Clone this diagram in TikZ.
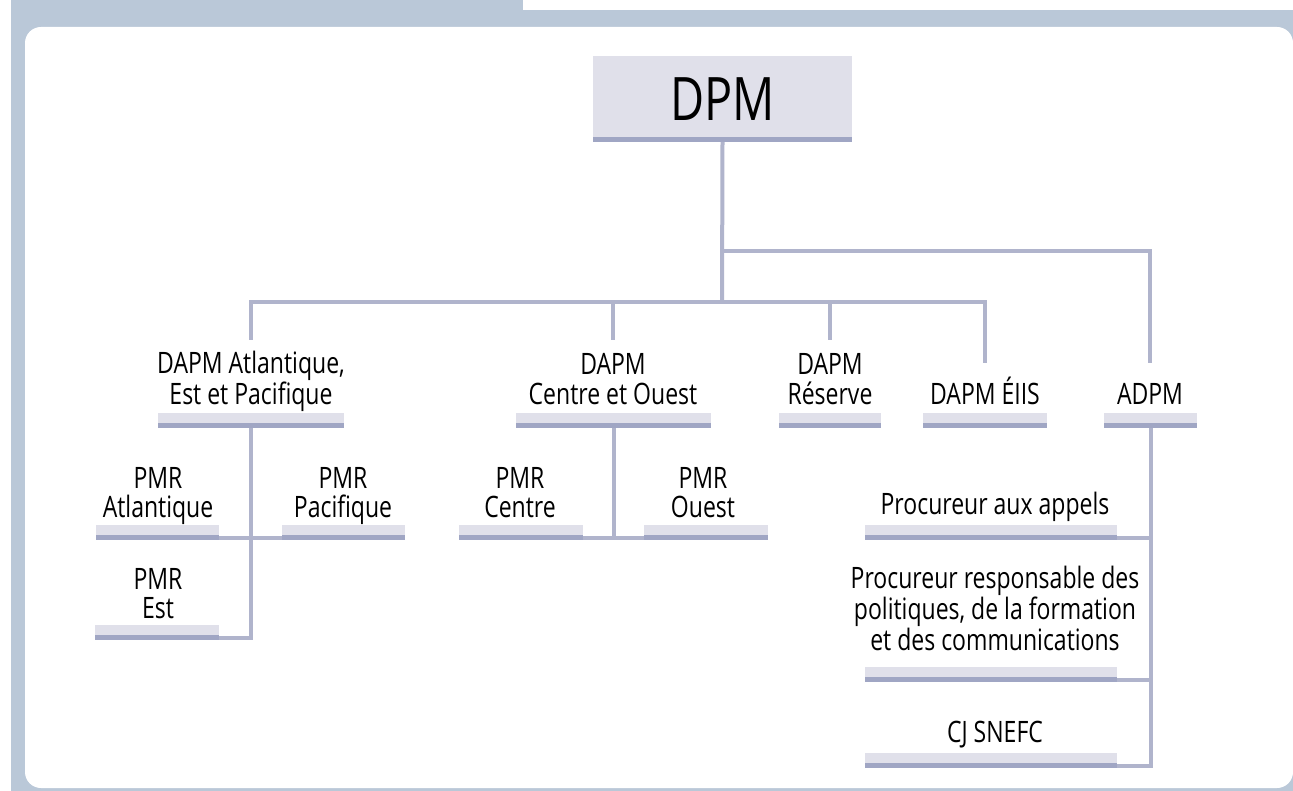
\documentclass[tikz,border=0pt]{standalone}
\usepackage{fontspec}
\setmainfont{Open Sans}[FakeStretch=0.78]
\usepackage{tikz}
\usetikzlibrary{calc}

\definecolor{framegray}{RGB}{186,200,216}
\definecolor{boxlight}{RGB}{224,224,234}
\definecolor{boxdark}{RGB}{160,166,196}
\definecolor{linkcol}{RGB}{176,180,204}
\newcommand{\unitfont}{\fontsize{29.5}{29}\selectfont}
\newcommand{\headfont}{\fontsize{60}{60}\selectfont}

\begin{document}
\begin{tikzpicture}[x=1pt, y=-1pt,
		    underbar/.style={
		        inner sep=0pt, outer sep=0pt,
		        path picture={\fill[boxdark] ([yshift=5pt]path picture bounding box.south west) rectangle (path picture bounding box.south east);}
		    },
		    unitbar/.style={underbar, fill=boxlight, minimum height=15pt},
		    headbox/.style={underbar, fill=boxlight, font=\headfont},
		    unittext/.style={align=center, inner sep=0pt, outer sep=0pt, font=\unitfont, anchor=base},
		    link/.style={draw=linkcol, line width=4pt}
		]
		\useasboundingbox (0,0) rectangle (1293,791);
		\fill[framegray] (11,0) rectangle (523,10);
		\fill[framegray] (11,10) rectangle (1293,791);
		\fill[white, rounded corners=16pt] (25,27) rectangle (1293,788);

		\node[headbox, minimum width=259pt, minimum height=86pt] (DPM) at (722.5,99) {DPM};
		\coordinate (fork) at (722,251);
		\coordinate (bus) at (722,302);

		\node[unitbar, minimum width=186pt] (DAPM AEP) at (251,420.5) {};
		\node[unitbar, minimum width=195pt] (DAPM CO) at (613.5,420.5) {};
		\node[unitbar, minimum width=102pt] (DAPM Res) at (830,420.5) {};
		\node[unitbar, minimum width=124pt] (DAPM EIIS) at (985,420.5) {};
		\node[unitbar, minimum width=93pt] (ADPM) at (1150.5,420.5) {};
		\node[unittext, text height=64pt] (DAPM AEP txt) at (251,404) {DAPM Atlantique,\\Est et Pacifique};
		\node[unittext, text height=64pt] (DAPM CO txt) at (613,404) {DAPM\\Centre et Ouest};
		\node[unittext, text height=64pt] (DAPM Res txt) at (830,404) {DAPM\\Réserve};
		\node[unittext, text height=41pt] (DAPM EIIS txt) at (985,404) {DAPM ÉIIS};
		\node[unittext, text height=41pt] (ADPM txt) at (1150,404) {ADPM};

		\node[unitbar, minimum width=123pt] (PMR Atl) at (157.5,532.5) {};
		\node[unitbar, minimum width=123pt] (PMR Pac) at (343.5,532.5) {};
		\node[unitbar, minimum width=124pt] (PMR Est) at (157,632.5) {};
		\node[unitbar, minimum width=124pt] (PMR Cen) at (521,532.5) {};
		\node[unitbar, minimum width=124pt] (PMR Oue) at (706,532.5) {};
		\node[unittext] (PMR Atl txt) at (158,517) {PMR\\Atlantique};
		\node[unittext] (PMR Pac txt) at (343,517) {PMR\\Pacifique};
		\node[unittext] (PMR Est txt) at (158,618) {PMR\\Est};
		\node[unittext] (PMR Cen txt) at (520,517) {PMR\\Centre};
		\node[unittext] (PMR Oue txt) at (703,517) {PMR\\Ouest};

		\node[unitbar, minimum width=252pt] (Appels) at (991,532.5) {};
		\node[unitbar, minimum width=252pt] (Politiques) at (991,674.5) {};
		\node[unitbar, minimum width=252pt] (CJ SNEFC) at (991,760.5) {};
		\node[unittext] (Appels txt) at (995,514) {Procureur aux appels};
		\node[unittext] (Politiques txt) at (995,650) {Procureur responsable des\\politiques, de la formation\\et des communications};
		\node[unittext] (CJ SNEFC txt) at (995,742) {CJ SNEFC};

		\draw[link] (DPM.south) -- (bus);
		\draw[link] (fork) -| (ADPM txt.north);
		\draw[link] (bus) -| (DAPM AEP txt.north);
		\draw[link] (bus) -| (DAPM CO txt.north);
		\draw[link] (bus) -| (DAPM Res txt.north);
		\draw[link] (bus) -| (DAPM EIIS txt.north);
		\draw[link] (DAPM AEP.south) |- ([yshift=2pt]PMR Est.south east);
		\draw[link] ([yshift=2pt]PMR Atl.south east) -- ([yshift=2pt]PMR Pac.south west);
		\draw[link] (DAPM CO.south) -- ([yshift=2pt]DAPM CO.south |- PMR Cen.south);
		\draw[link] ([yshift=2pt]PMR Cen.south east) -- ([yshift=2pt]PMR Oue.south west);
		\draw[link] (ADPM.south) |- ([yshift=2pt]CJ SNEFC.south east);
		\draw[link] ([yshift=2pt]Appels.south east) -- ([yshift=2pt]Appels.south east -| ADPM.south);
		\draw[link] ([yshift=2pt]Politiques.south east) -- ([yshift=2pt]Politiques.south east -| ADPM.south);
	\end{tikzpicture}
\end{document}
